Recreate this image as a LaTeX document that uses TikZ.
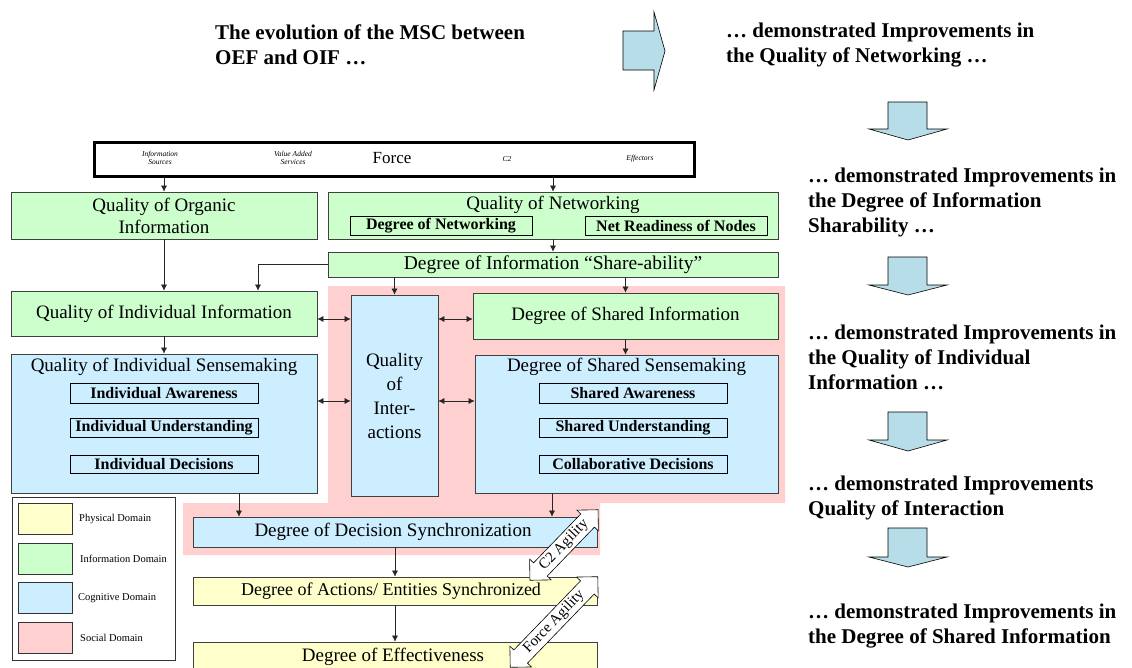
\documentclass[tikz,border=0pt]{standalone}
\usepackage{fontspec}
\setmainfont{Liberation Serif}
\usetikzlibrary{arrows.meta,shapes.arrows}
\definecolor{grn}{RGB}{204,255,204}
\definecolor{blu}{RGB}{204,238,255}
\definecolor{yel}{RGB}{255,255,204}
\definecolor{pnk}{RGB}{255,208,208}
\definecolor{tealb}{RGB}{183,222,232}
\tikzset{
 box/.style={draw=black!75, line width=0.7pt, inner sep=0pt, align=center, font=\fontsize{19}{22}\selectfont},
 ibox/.style={box, fill=grn},
 cbox/.style={box, fill=blu},
 pbox/.style={box, fill=yel},
 ttl/.style={inner sep=0pt, align=center, font=\fontsize{19}{22}\selectfont},
 sub/.style={draw=black, line width=0.8pt, inner sep=0pt, font=\bfseries\fontsize{16}{18}\selectfont},
 arr/.style={-{Latex[length=6pt,width=6pt]}, line width=0.6pt, black!85},
 darr/.style={{Latex[length=6pt,width=6pt]}-{Latex[length=6pt,width=6pt]}, line width=0.6pt, black!85},
 blk/.style={fill=tealb, draw=black, line width=0.6pt},
 rtxt/.style={anchor=west, align=left, inner sep=0pt, font=\bfseries\fontsize{21}{25}\selectfont},
 agil/.style={double arrow, draw=black, fill=white, line width=0.6pt, double arrow head extend=5pt, inner sep=1.5pt, font=\fontsize{15}{15}\selectfont},
 ftiny/.style={inner sep=0pt, align=center, font=\itshape\fontsize{7.5}{8}\selectfont},
 leg/.style={anchor=west, inner sep=0pt, font=\fontsize{10.5}{11}\selectfont},
 sw/.style={draw=black!80, line width=0.7pt, minimum width=54pt, minimum height=31pt, inner sep=0pt},
}
\begin{document}
\begin{tikzpicture}[x=1pt,y=-1pt]
\useasboundingbox (0,0) rectangle (1132,667);
\clip (0,0) rectangle (1132,667);
% social domain background
\fill[pnk] (328,286) -- (785,286) -- (785,503) -- (600,503) -- (600,555) -- (183,555) -- (183,503) -- (328,503) -- cycle;

% top texts
\node[rtxt] (t0) at (215,45) {The evolution of the MSC between\\OEF and OIF …};
\node[rtxt] (t1) at (726,45) {… demonstrated Improvements in\\the Quality of Networking …};
\node[rtxt] (t2) at (808,202.5) {… demonstrated Improvements in\\the Degree of Information\\Sharability …};
\node[rtxt] (t3) at (808,357) {… demonstrated Improvements in\\the Quality of Individual\\Information …};
\node[rtxt] (t4) at (808,497.5) {… demonstrated Improvements\\Quality of Interaction};
\node[rtxt] (t5) at (808,626.5) {… demonstrated Improvements in\\the Degree of Shared Information};

% block arrows
\draw[blk] (623,31) -- (654,31) -- (654,12) -- (665,51) -- (654,90) -- (654,70) -- (623,70) -- cycle;
\foreach \t/\h/\p in {102/129/140, 257/285/295, 412/440/451, 528/557/567}
  \draw[blk] (888,\t) -- (927,\t) -- (927,\h) -- (947,\h) -- (908,\p) -- (869,\h) -- (888,\h) -- cycle;

% force bar
\node[draw=black, line width=3pt, fill=white, minimum width=600pt, minimum height=34pt, inner sep=0pt] (bar) at (394,159) {};
\node[ftiny] (fis) at (160,158) {Information\\Sources};
\node[ftiny] (fvas) at (293,158) {Value Added\\Services};
\node[inner sep=0pt, font=\fontsize{17}{17}\selectfont] (fforce) at (392,158) {Force};
\node[ftiny] (fc2) at (507,159) {C2};
\node[ftiny] (feff) at (640,159) {Effectors};

% information domain
\node[ibox, minimum width=306pt, minimum height=47pt] (qoo) at (164,215.5) {Quality of Organic\\Information};
\node[ibox, minimum width=450pt, minimum height=47pt] (qon) at (553,215.5) {};
\node[ttl] (qont) at (553,205) {Quality of Networking};
\node[sub, fill=grn, minimum width=182pt, minimum height=19pt] (don) at (441,225.5) {Degree of Networking};
\node[sub, fill=grn, minimum width=182pt, minimum height=19pt] (nrn) at (676,225.5) {Net Readiness of Nodes};
\node[ibox, minimum width=450pt, minimum height=25pt, font=\fontsize{19.5}{22}\selectfont] (dis) at (553,264.5) {Degree of Information “Share-ability”};
\node[ibox, minimum width=306pt, minimum height=45pt] (qii) at (164,313.5) {Quality of Individual Information};
\node[ibox, minimum width=305pt, minimum height=46pt] (dsi) at (625.5,316) {Degree of Shared Information};

% cognitive domain
\node[cbox, minimum width=306pt, minimum height=139pt] (qis) at (164,423.5) {};
\node[ttl] (qist) at (164,367) {Quality of Individual Sensemaking};
\node[sub, fill=blu, minimum width=188pt, minimum height=20pt] (ia) at (164,393) {Individual Awareness};
\node[sub, fill=blu, minimum width=188pt, minimum height=19pt] (iu) at (164,427.5) {Individual Understanding};
\node[sub, fill=blu, minimum width=188pt, minimum height=18pt] (id) at (164,464) {Individual Decisions};
\node[cbox, minimum width=87pt, minimum height=201pt, font=\fontsize{19}{24}\selectfont] (qoint) at (394.5,395.5) {Quality\\of\\Inter-\\actions};
\node[cbox, minimum width=303pt, minimum height=138pt] (dss) at (626.5,424) {};
\node[ttl] (dsst) at (626.5,367) {Degree of Shared Sensemaking};
\node[sub, fill=blu, minimum width=188pt, minimum height=20pt] (sa) at (633,393) {Shared Awareness};
\node[sub, fill=blu, minimum width=188pt, minimum height=19pt] (su) at (633,427.5) {Shared Understanding};
\node[sub, fill=blu, minimum width=188pt, minimum height=18pt] (cd) at (633,464) {Collaborative Decisions};
\node[cbox, minimum width=404pt, minimum height=30pt] (dds) at (395,532) {};
\node[ttl] (ddst) at (393,532) {Degree of Decision Synchronization};

% physical domain
\node[pbox, minimum width=404pt, minimum height=28pt] (daes) at (395,591) {};
\node[ttl, font=\fontsize{18}{20}\selectfont] (daest) at (391,591) {Degree of Actions/ Entities Synchronized};
\node[pbox, minimum width=404pt, minimum height=33pt] (de) at (395,658.5) {};
\node[ttl] (det) at (393,657) {Degree of Effectiveness};

% agility arrows
\node[agil, rotate=46, minimum height=98pt, minimum width=30pt] (c2a) at (564,545) {C2 Agility};
\node[agil, rotate=46, minimum height=126pt, minimum width=30pt] (fa) at (554,622) {Force Agility};

% connectors
\draw[arr] (bar.south -| qoo) -- (qoo.north);
\draw[arr] (bar.south -| qon) -- (qon.north);
\draw[arr] (qon.south) -- (dis.north);
\draw[arr] (qoo.south) -- (qii.north);
\draw[arr] (dis.west) -| ([xshift=94pt]qii.north);
\draw[arr] (dis.south -| qoint) -- (qoint.north);
\draw[arr] (dis.south -| dsi) -- (dsi.north);
\draw[arr] (qii.south) -- (qis.north);
\draw[arr] (dsi.south) -- (dsi.south |- dss.north);
\draw[darr] ([yshift=-5.5pt]qii.east) -- ([yshift=-5.5pt]qii.east -| qoint.west);
\draw[darr] ([yshift=-5.5pt]qoint.west -| qis.east) -- ([yshift=-5.5pt]qoint.west);
\draw[darr] ([yshift=-5.5pt]qoint.east |- qii.east) -- ([yshift=-5.5pt]dsi.west |- qii.east);
\draw[darr] ([yshift=-5.5pt]qoint.east) -- ([yshift=-5.5pt]qoint.east -| dss.west);
\draw[arr] ([xshift=75pt]qis.south) -- ([xshift=75pt]qis.south |- dds.north);
\draw[arr] ([xshift=-74.5pt]dss.south) -- ([xshift=-74.5pt]dss.south |- dds.north);
\draw[arr] (dds.south) -- (daes.north);
\draw[arr] (daes.south) -- (de.north);

% legend
\node[draw=black!80, line width=0.8pt, minimum width=163pt, minimum height=163pt, inner sep=0pt] (legend) at (93.5,578.5) {};
\node[sw, fill=yel] (swp) at (45,518.5) {};
\node[sw, fill=grn] (swi) at (45,558.5) {};
\node[sw, fill=blu] (swc) at (45,598) {};
\node[sw, fill=pnk] (sws) at (45,637.5) {};
\node[leg] (lp) at (79,518.5) {Physical Domain};
\node[leg] (li) at (80,558.5) {Information Domain};
\node[leg] (lc) at (78,598) {Cognitive Domain};
\node[leg] (ls) at (80,637.5) {Social Domain};
\end{tikzpicture}
\end{document}
